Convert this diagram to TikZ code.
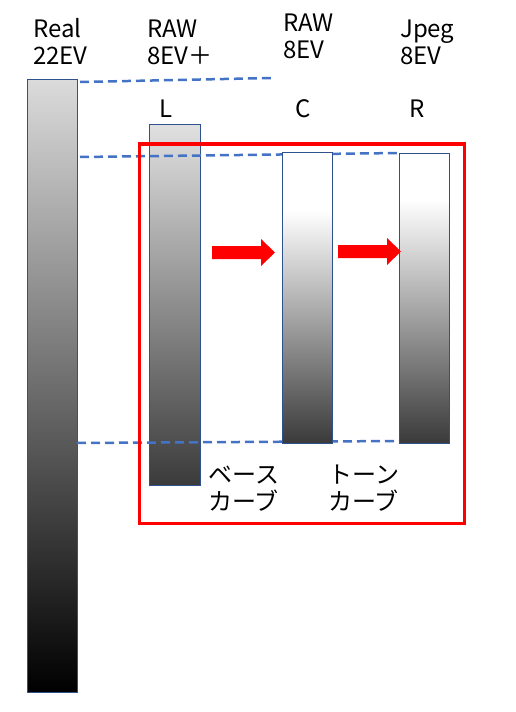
\documentclass[tikz,border=0pt]{standalone}
\usepackage{fontspec}
\setmainfont{Noto Sans CJK JP}
\definecolor{dashblue}{HTML}{4472C4}
\definecolor{barline}{HTML}{2F528F}
\definecolor{arrowred}{HTML}{FF0000}
\definecolor{bardark}{HTML}{3A3A3A}
\pgfdeclareverticalshading{curveC}{100bp}{color(0bp)=(bardark); color(25bp)=(bardark); color(65bp)=(white); color(100bp)=(white)}
\pgfdeclareverticalshading{curveR}{100bp}{color(0bp)=(bardark); color(25bp)=(bardark); color(67bp)=(white); color(100bp)=(white)}
\tikzset{
  bar/.style = {draw=barline, line width=0.8pt},
  level/.style = {draw=dashblue, line width=2.5pt,
                  dash pattern=on 9pt off 5pt},
  label/.style = {anchor=base west, inner sep=0pt, align=left,
                  font=\fontsize{24}{27}\selectfont}
}

\begin{document}
\begin{tikzpicture}[x=1pt,y=-1pt]
	\useasboundingbox (0,0) rectangle (516,712);
	\def \btop{152}
	\def \bbot{443}

	% Labels (anchored at the last line)
	\node[label] (real) at (33,64) {Real\\22EV};
	\node[label] (rawL) at (147,64) {RAW\\8EV＋};
	\node[label] (rawC) at (283,58) {RAW\\8EV};
	\node[label] (jpeg) at (400,64) {Jpeg\\8EV};
	\node[label] (L) at (159,117) {L};
	\node[label] (C) at (295,117) {C};
	\node[label] (R) at (409,117) {R};
	\node[label] (base) at (208,510) {ベース\\カーブ};
	\node[label] (tone) at (328,510) {トーン\\カーブ};

	% Bars
	\draw[bar, top color=black!14, bottom color=black] (27,79) rectangle (77,692); % Real
	\draw[bar, top color=black!12, bottom color=black!77] (149,124) rectangle (200,485); % L

	% Levels
	\coordinate (t1) at (80,82);  \coordinate (t2) at (272,78);
	\coordinate (m1) at (80,157); \coordinate (m2) at (399,153);
	\coordinate (b1) at (77,443); \coordinate (b2) at (399,441);
	\draw[level] (t1) -- (t2);
	\draw[level] (m1) -- (m2);
	\draw[level] (b1) -- (b2);

	\draw[bar, shading=curveC] (282,\btop) rectangle (332,\bbot); % C
	\draw[bar, shading=curveR] (399,\btop+1) rectangle (449,\bbot); % R

	% Arrows
	\foreach \ax/\ay in {212/252.5, 338/251.5}
		\fill[arrowred] (\ax,\ay-6.5) -- (\ax+49,\ay-6.5) -- (\ax+49,\ay-13.5)
			-- (\ax+63,\ay) -- (\ax+49,\ay+13.5) -- (\ax+49,\ay+6.5)
			-- (\ax,\ay+6.5) -- cycle;

	% Frame
	\draw[arrowred, line width=3.5pt] (139.5,144) rectangle (464.5,523.5);
\end{tikzpicture}
\end{document}
